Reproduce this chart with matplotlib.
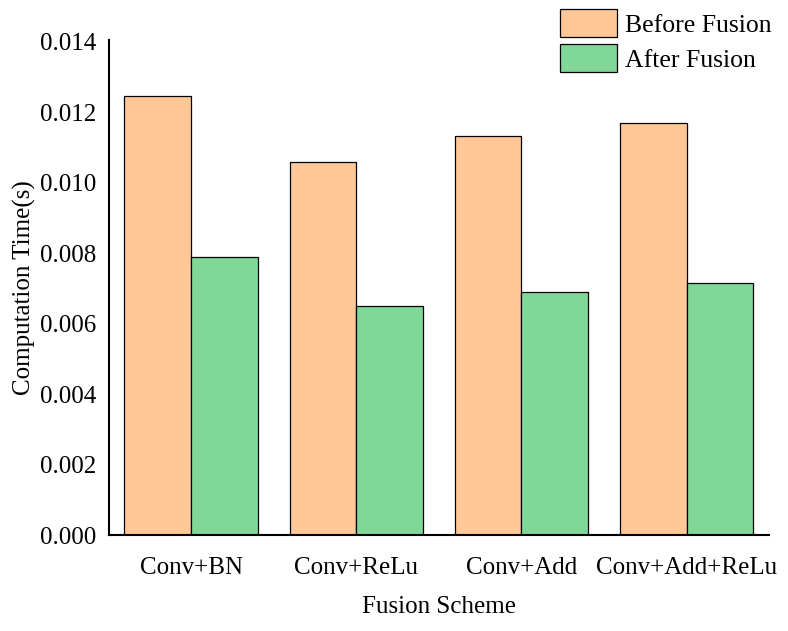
import numpy as np
import matplotlib
matplotlib.use("Agg")
import matplotlib.pyplot as plt

plt.rcParams['font.family'] = ['Liberation Serif', 'DejaVu Serif']

schemes = ["Conv+BN", "Conv+ReLu", "Conv+Add", "Conv+Add+ReLu"]
before = [0.01247, 0.01059, 0.01133, 0.01170]
after = [0.00789, 0.00650, 0.00690, 0.00716]

fig = plt.figure(figsize=(7.88, 6.31), dpi=100)
ax = fig.add_axes([0.138, 0.152, 0.838, 0.785])

x = np.arange(len(schemes))
w = 0.405
ax.bar(x - w / 2, before, w, color="#FFC896", edgecolor="black", linewidth=0.9, label="Before Fusion")
ax.bar(x + w / 2, after, w, color="#7FD798", edgecolor="black", linewidth=0.9, label="After Fusion")

ax.set_xlim(-0.5, 3.5)
ax.set_ylim(0, 0.01406)
ax.set_yticks(np.arange(0, 0.0141, 0.002))
ax.set_yticklabels([f"{v:.3f}" for v in np.arange(0, 0.0141, 0.002)])
ax.set_xticks(x)
ax.set_xticklabels(schemes)
ax.tick_params(axis="y", length=0, pad=9, labelsize=18)
ax.tick_params(axis="x", length=0, pad=16, labelsize=18)

for s in ["top", "right"]:
    ax.spines[s].set_visible(False)
for s in ["left", "bottom"]:
    ax.spines[s].set_linewidth(1.5)

ax.set_xlabel("Fusion Scheme", fontsize=18, labelpad=12)
ax.set_ylabel("Computation Time(s)", fontsize=18, labelpad=3)

fig.legend(loc="upper left", bbox_to_anchor=(0.711, 0.985), bbox_transform=fig.transFigure,
           frameon=False, fontsize=18.5, borderpad=0, borderaxespad=0, handlelength=2.2,
           handleheight=1.3, handletextpad=0.3, labelspacing=0.25)

fig.savefig("out.png", dpi=100)
